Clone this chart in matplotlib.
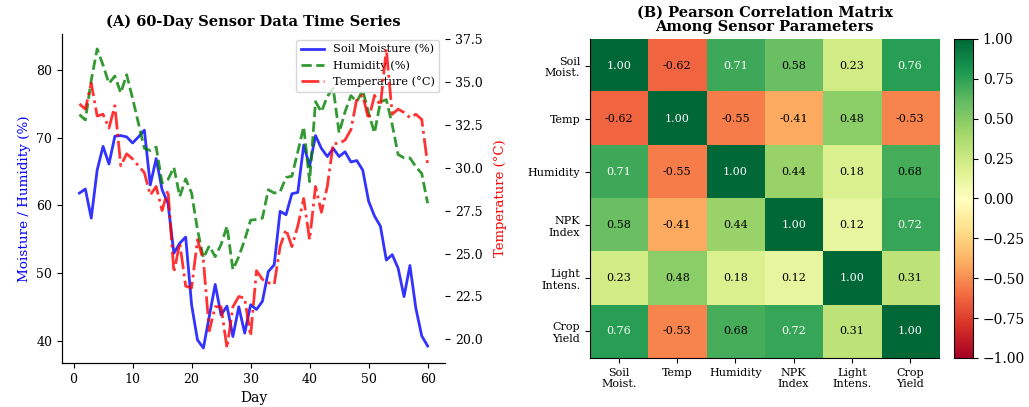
import matplotlib
matplotlib.use("Agg")
import matplotlib.pyplot as plt
import numpy as np

plt.rcParams['font.family'] = 'serif'
plt.rcParams['font.serif'] = ['DejaVu Serif']
plt.rcParams['axes.spines.top'] = False
plt.rcParams['axes.spines.right'] = False

# --- (A) time series ---
days = list(range(1, 61))
soil_moisture = [61.8, 62.4, 58.1, 65.2, 68.7, 66.1, 70.2, 70.3, 70.1, 69.2,
                 70.1, 71.1, 63.0, 66.9, 62.3, 60.3, 52.9, 54.4, 55.3, 45.3,
                 40.1, 38.9, 43.6, 48.3, 43.8, 45.1, 40.6, 45.0, 41.1, 45.3,
                 44.6, 45.8, 50.2, 51.2, 59.1, 58.6, 61.7, 61.9, 68.9, 65.8,
                 70.3, 68.4, 67.2, 68.4, 67.2, 67.9, 66.4, 66.6, 65.2, 60.6,
                 58.4, 56.9, 51.9, 52.7, 50.7, 46.5, 51.1, 44.8, 40.7, 39.2]
humidity = [73.4, 72.6, 78.5, 83.1, 80.7, 78.0, 79.1, 76.6, 79.3, 75.8,
            72.1, 68.4, 68.1, 68.6, 63.3, 63.8, 65.6, 61.3, 63.9, 61.8,
            56.4, 52.2, 54.0, 52.4, 54.2, 56.9, 50.5, 52.4, 54.9, 57.8,
            57.9, 58.1, 62.3, 61.8, 62.0, 64.1, 64.3, 67.9, 71.6, 63.5,
            75.3, 73.8, 76.1, 77.3, 70.7, 73.8, 76.2, 75.3, 77.0, 73.6,
            70.7, 75.3, 75.6, 71.9, 67.5, 67.0, 67.0, 65.7, 64.7, 60.3]
temperature = [33.7, 33.4, 34.9, 33.0, 33.1, 32.3, 33.6, 30.1, 30.8, 30.5,
               30.1, 29.7, 28.4, 28.9, 27.5, 28.7, 23.9, 25.6, 23.1, 23.0,
               25.8, 24.6, 20.5, 21.9, 21.9, 19.5, 21.9, 22.5, 22.4, 20.2,
               24.0, 23.5, 23.3, 23.2, 25.4, 26.4, 25.4, 26.6, 28.2, 25.8,
               28.9, 27.4, 28.9, 31.4, 31.4, 31.6, 32.2, 34.0, 34.2, 32.8,
               34.2, 33.6, 36.9, 33.1, 33.4, 33.2, 32.9, 33.1, 32.8, 30.2]

# --- (B) correlation matrix ---
params = ["Soil\nMoist.", "Temp", "Humidity", "NPK\nIndex", "Light\nIntens.", "Crop\nYield"]
corr = [[1.00, -0.62, 0.71, 0.58, 0.23, 0.76],
        [-0.62, 1.00, -0.55, -0.41, 0.48, -0.53],
        [0.71, -0.55, 1.00, 0.44, 0.18, 0.68],
        [0.58, -0.41, 0.44, 1.00, 0.12, 0.72],
        [0.23, 0.48, 0.18, 0.12, 1.00, 0.31],
        [0.76, -0.53, 0.68, 0.72, 0.31, 1.00]]

fig = plt.figure(figsize=(10.29, 4.07), dpi=100)

ax1 = fig.add_axes([0.0603, 0.1081, 0.3722, 0.8084])
l1, = ax1.plot(days, soil_moisture, color='blue', alpha=0.8, lw=2, label='Soil Moisture (%)')
l2, = ax1.plot(days, humidity, color='green', alpha=0.8, lw=2, ls='--', label='Humidity (%)')
ax1.set_xlabel('Day', fontsize=10)
ax1.set_ylabel('Moisture / Humidity (%)', color='blue', fontsize=9.7)
ax1.tick_params(labelsize=9)
ax1.set_title('(A) 60-Day Sensor Data Time Series', fontsize=10.5, fontweight='bold')

ax2 = ax1.twinx()
ax2.spines['right'].set_visible(False)
l3, = ax2.plot(days, temperature, color='red', alpha=0.8, lw=2, ls='-.', label='Temperature (°C)')
ax2.set_ylabel('Temperature (°C)', color='red', fontsize=9.5, labelpad=8)
ax2.tick_params(labelsize=9)
ax1.legend(handles=[l1, l2, l3], loc='upper right', fontsize=8.2)

# heatmap
ax3 = fig.add_axes([0.5734, 0.1204, 0.3392, 0.7838])
cax = fig.add_axes([0.9271, 0.1204, 0.0185, 0.7838])
data = np.array(corr)
im = ax3.imshow(data, cmap='RdYlGn', vmin=-1, vmax=1, aspect='auto')
for i in range(len(params)):
    for j in range(len(params)):
        v = data[i, j]
        ax3.text(j, i, f"{v:.2f}", ha='center', va='center', fontsize=8,
                 color='white' if v > 0.7 else 'black')
ax3.set_xticks(range(len(params)))
ax3.set_xticklabels(params, fontsize=8)
ax3.set_yticks(range(len(params)))
ax3.set_yticklabels(params, fontsize=8)
ax3.set_title('(B) Pearson Correlation Matrix\nAmong Sensor Parameters', fontsize=10.5,
              fontweight='bold', linespacing=1.0)
cb = fig.colorbar(im, cax=cax)
cb.set_ticks(np.arange(-1, 1.01, 0.25))
cb.ax.tick_params(labelsize=10)

fig.savefig('out.png', dpi=100)
